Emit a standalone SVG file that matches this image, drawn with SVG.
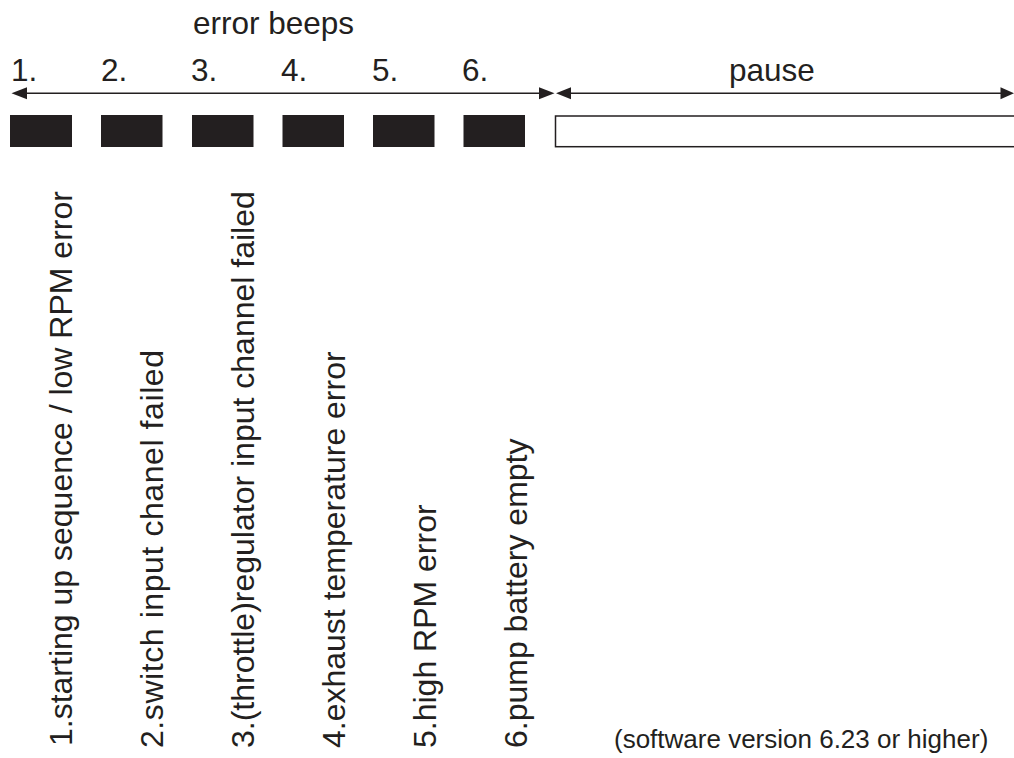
<svg xmlns="http://www.w3.org/2000/svg" width="1014" height="758" viewBox="0 0 1014 758">
<defs>
<style>
text{font-family:"Liberation Sans",Arial,sans-serif;fill:#231f20}
.t{font-size:31.5px}
.v{font-size:32px}
.f{font-size:26px}
.beep{fill:#231f20}
.line{stroke:#231f20;stroke-width:1.5;fill:none}
.head{fill:#231f20}
</style>
</defs>
<rect width="1014" height="758" fill="#fff"/>
<g id="title"><text class="t" x="193" y="34">error beeps</text></g>
<g id="numbers">
<text class="t" x="11" y="81">1.</text>
<text class="t" x="101" y="81">2.</text>
<text class="t" x="191" y="81">3.</text>
<text class="t" x="281" y="81">4.</text>
<text class="t" x="372" y="81">5.</text>
<text class="t" x="462" y="81">6.</text>
</g>
<g id="pause-label"><text class="t" x="729" y="81">pause</text></g>
<g id="connectors">
<line class="line" x1="20" y1="93.3" x2="546" y2="93.3"/>
<polygon class="head" points="11.5,93.3 27,87.3 27,99.3"/>
<polygon class="head" points="554.5,93.3 539,87.3 539,99.3"/>
<line class="line" x1="565" y1="93.3" x2="1005" y2="93.3"/>
<polygon class="head" points="556,93.3 571,87.3 571,99.3"/>
<polygon class="head" points="1014,93.3 1000.5,87.3 1000.5,99.3"/>
</g>
<g id="beep1"><rect class="beep" x="10" y="115" width="62" height="32"/></g>
<g id="beep2"><rect class="beep" x="101" y="115" width="61.5" height="32"/></g>
<g id="beep3"><rect class="beep" x="192" y="115" width="61.5" height="32"/></g>
<g id="beep4"><rect class="beep" x="282.5" y="115" width="61.5" height="32"/></g>
<g id="beep5"><rect class="beep" x="373" y="115" width="61.5" height="32"/></g>
<g id="beep6"><rect class="beep" x="463.5" y="115" width="61.5" height="32"/></g>
<g id="pause"><rect x="555.5" y="116" width="470" height="30.7" fill="#fff" stroke="#231f20" stroke-width="1.5"/></g>
<g id="label1"><text class="v" transform="translate(72,746) rotate(-90)">1.starting up sequence / low RPM error</text></g>
<g id="label2"><text class="v" transform="translate(163,748) rotate(-90)" textLength="398" lengthAdjust="spacing">2.switch input chanel failed</text></g>
<g id="label3"><text class="v" transform="translate(254,748) rotate(-90)">3.(throttle)regulator input channel failed</text></g>
<g id="label4"><text class="v" transform="translate(345,748) rotate(-90)">4.exhaust temperature error</text></g>
<g id="label5"><text class="v" transform="translate(436,748) rotate(-90)">5.high RPM error</text></g>
<g id="label6"><text class="v" transform="translate(527,748) rotate(-90)">6.pump battery empty</text></g>
<g id="footer"><text class="f" x="614" y="748">(software version 6.23 or higher)</text></g>
</svg>
